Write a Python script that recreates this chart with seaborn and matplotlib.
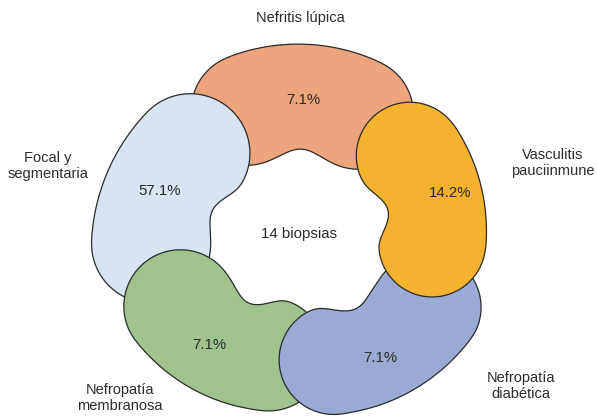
import numpy as np
import matplotlib
matplotlib.use("Agg")
import matplotlib.pyplot as plt
import seaborn as sns

# data
categories = ["Nefritis lúpica", "Vasculitis\npauciinmune", "Nefropatía\ndiabética",
              "Nefropatía\nmembranosa", "Focal y\nsegmentaria"]
percentages = [7.1, 14.2, 7.1, 7.1, 57.1]
n_biopsias = 14

# style: shape of each kidney on the ring
colors = ["#EEA47C", "#F4B22E", "#9BAAD5", "#A0C38E", "#D8E4F2"]
angles = [88, 17, -51, -127, 162]
radii = [138, 136.5, 136.5, 128, 142]
thick = [56, 54, 55, 57, 60]
lengths = [57, 46, 54, 51, 50]
tilts = [0.0, -0.05, -0.176, 0.157, -0.1]
dents = [8, 13, 11, 12, 9]
zorders = [1, 5, 4, 3, 2]
pct_pos = [(303, 100), (450, 193), (380, 358), (209, 345), (160, 191)]
label_pos = [(300, 18), (553, 163), (521, 386), (120, 398), (48, 166)]

CX, CY = 298, 238


def smooth_closed(x, y, sigma=7, n=800):
    """resample a closed outline by arc length and blur it a little"""
    d = np.hypot(np.diff(x, append=x[0]), np.diff(y, append=y[0]))
    s = np.concatenate([[0], np.cumsum(d)])
    xs = np.append(x, x[0])
    ys = np.append(y, y[0])
    g = np.linspace(0, s[-1], n, endpoint=False)
    xr, yr = np.interp(g, s, xs), np.interp(g, s, ys)
    step = s[-1] / n
    k = np.arange(-4 * sigma / step, 4 * sigma / step + 1) * step
    ker = np.exp(-0.5 * (k / sigma) ** 2)
    ker /= ker.sum()
    h = len(ker) // 2
    xp = np.concatenate([xr[-h:], xr, xr[:h]])
    yp = np.concatenate([yr[-h:], yr, yr[:h]])
    return np.convolve(xp, ker, "valid"), np.convolve(yp, ker, "valid")


def kidney(theta, R, b, L, tilt, dent, w=30, m=150):
    """rounded bean bent around the ring centre, hilum facing inwards"""
    th = np.radians(theta)

    def side(u, v):
        phi = th - u / R
        r = R + tilt * u + v
        return r * np.cos(phi), r * np.sin(phi)

    def cap(u0, alpha):
        phi = th - u0 / R
        rc = R + tilt * u0
        er = np.array([np.cos(phi), np.sin(phi)])
        tu = np.array([np.sin(phi), -np.cos(phi)])
        px = rc * er[0] + b * (np.cos(alpha) * tu[0] + np.sin(alpha) * er[0])
        py = rc * er[1] + b * (np.cos(alpha) * tu[1] + np.sin(alpha) * er[1])
        return px, py

    top = np.linspace(-L, L, m)
    bot = np.linspace(L, -L, m)
    parts = [side(top, b),
             cap(L, np.linspace(np.pi / 2, -np.pi / 2, m)),
             side(bot, -b + dent * np.exp(-(bot / w) ** 2)),
             cap(-L, np.linspace(-np.pi / 2, -1.5 * np.pi, m))]
    x = np.concatenate([p[0] for p in parts])
    y = np.concatenate([p[1] for p in parts])
    return smooth_closed(CX + x, CY - y)


sns.set_style("white")
plt.rcParams["font.family"] = ["Liberation Sans", "DejaVu Sans"]

fig = plt.figure(figsize=(5.97, 4.2), dpi=100)
ax = fig.add_axes([0, 0, 1, 1])
ax.set_xlim(0, 597)
ax.set_ylim(420, 0)
ax.axis("off")

txt = "#2b2b2b"
for i, cat in enumerate(categories):
    x, y = kidney(angles[i], radii[i], thick[i], lengths[i], tilts[i], dents[i])
    ax.fill(x, y, facecolor=colors[i], edgecolor="#2b2b2b", linewidth=0.9,
            zorder=zorders[i])
    px, py = pct_pos[i]
    ax.text(px, py, f"{percentages[i]}%", ha="center", va="center",
            fontsize=10.8, color=txt, zorder=10)
    lx, ly = label_pos[i]
    ax.text(lx, ly, cat, ha="center", va="center", fontsize=10.5, color=txt,
            linespacing=1.2, zorder=10)

ax.text(299, 234, f"{n_biopsias} biopsias", ha="center", va="center",
        fontsize=10.8, color=txt)

fig.savefig("out.png", dpi=100)
